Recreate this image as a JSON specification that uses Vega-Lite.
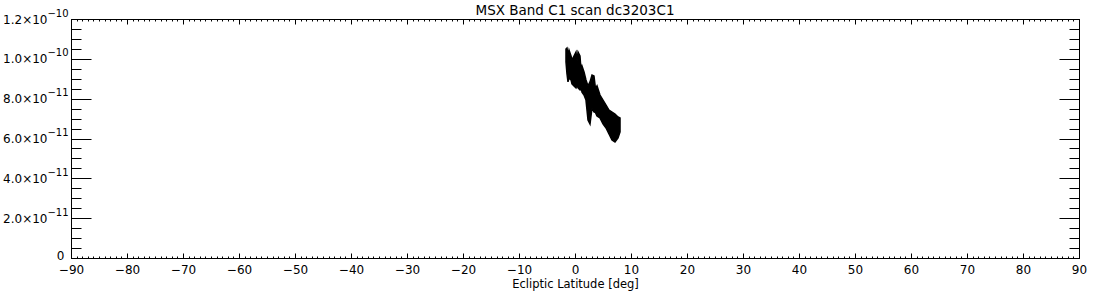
{
  "$schema": "https://vega.github.io/schema/vega-lite/v6.json",
  "autosize": {"type": "none"},
  "padding": {"left": 71, "top": 19, "right": 21, "bottom": 42},
  "width": 1008,
  "height": 239,
  "background": "white",
  "title": {"text": "MSX Band C1 scan dc3203C1", "font": "DejaVu Sans", "fontSize": 13.5, "fontWeight": "normal", "color": "black", "anchor": "middle", "offset": -9},
  "config": {
    "view": {"stroke": "black", "strokeWidth": 1},
    "axis": {"grid": false, "domain": false, "tickColor": "black", "tickWidth": 1, "labelColor": "black", "labelFont": "DejaVu Sans", "labelFontSize": 12, "titleFont": "DejaVu Sans", "titleFontSize": 11.5, "titleFontWeight": "normal", "titleColor": "black"}
  },
  "data": {"values": [
    {"lat": -1.61, "hi": 1.049e-10, "lo": 9.84e-11},
    {"lat": -1.43, "hi": 1.054e-10, "lo": 9.24e-11},
    {"lat": -1.25, "hi": 1.02e-10, "lo": 8.84e-11},
    {"lat": -1.07, "hi": 1.044e-10, "lo": 9.04e-11},
    {"lat": -0.71, "hi": 1.014e-10, "lo": 8.94e-11},
    {"lat": -0.54, "hi": 9.94e-11, "lo": 8.74e-11},
    {"lat": -0.18, "hi": 1.014e-10, "lo": 8.64e-11},
    {"lat": 0.18, "hi": 1.034e-10, "lo": 8.54e-11},
    {"lat": 0.36, "hi": 9.9e-11, "lo": 8.7e-11},
    {"lat": 0.54, "hi": 1.034e-10, "lo": 8.54e-11},
    {"lat": 0.89, "hi": 1.014e-10, "lo": 8.44e-11},
    {"lat": 1.07, "hi": 9.45e-11, "lo": 8.6e-11},
    {"lat": 1.25, "hi": 9.64e-11, "lo": 8.33e-11},
    {"lat": 1.61, "hi": 9.34e-11, "lo": 8.18e-11},
    {"lat": 1.96, "hi": 8.94e-11, "lo": 7.93e-11},
    {"lat": 2.32, "hi": 8.64e-11, "lo": 6.93e-11},
    {"lat": 2.68, "hi": 8.84e-11, "lo": 6.73e-11},
    {"lat": 3.04, "hi": 9.19e-11, "lo": 7.53e-11},
    {"lat": 3.39, "hi": 9.14e-11, "lo": 7.33e-11},
    {"lat": 3.66, "hi": 8.5e-11, "lo": 7.3e-11},
    {"lat": 3.93, "hi": 8.64e-11, "lo": 7.13e-11},
    {"lat": 4.46, "hi": 8.18e-11, "lo": 7.03e-11},
    {"lat": 5.0, "hi": 7.93e-11, "lo": 6.73e-11},
    {"lat": 5.54, "hi": 7.68e-11, "lo": 6.53e-11},
    {"lat": 6.07, "hi": 7.43e-11, "lo": 6.23e-11},
    {"lat": 6.61, "hi": 7.33e-11, "lo": 5.92e-11},
    {"lat": 7.14, "hi": 7.23e-11, "lo": 5.82e-11},
    {"lat": 7.68, "hi": 7.08e-11, "lo": 6.03e-11},
    {"lat": 8.04, "hi": 7.03e-11, "lo": 6.33e-11}
  ]},
  "resolve": {"scale": {"x": "shared", "y": "shared"}, "axis": {"x": "independent", "y": "independent"}},
  "layer": [
    {
      "mark": {"type": "area", "color": "black", "stroke": "black", "strokeWidth": 1.5, "interpolate": "linear"},
      "encoding": {
        "x": {"field": "lat", "type": "quantitative", "scale": {"domain": [-90, 90], "nice": false, "zero": false},
          "axis": {"orient": "bottom", "values": [-90, -80, -70, -60, -50, -40, -30, -20, -10, 0, 10, 20, 30, 40, 50, 60, 70, 80, 90], "tickSize": -5, "labelPadding": 11, "title": "Ecliptic Latitude [deg]", "titlePadding": 3, "labelFlush": false}},
        "y": {"field": "hi", "type": "quantitative", "scale": {"domain": [0, 1.2e-10], "nice": false, "zero": true},
          "axis": {"orient": "left", "values": [2e-11, 4e-11, 6e-11, 8e-11, 1e-10, 1.2e-10], "tickSize": -20, "labelPadding": 44, "title": null, "labelFlush": false,
            "labelExpr": "format(datum.value / pow(10, floor(log(datum.value) / LN10 + 1e-9)), '.1f') + '×10'"}},
        "y2": {"field": "lo"}
      }
    },
    {
      "mark": {"type": "point", "opacity": 0},
      "encoding": {
        "x": {"field": "lat", "type": "quantitative", "axis": {"orient": "bottom", "tickCount": 180, "tickSize": -2, "labels": false, "title": null}},
        "y": {"field": "hi", "type": "quantitative", "axis": {"orient": "left", "tickCount": 24, "tickSize": -10, "labels": false, "title": null}}
      }
    },
    {
      "mark": {"type": "point", "opacity": 0},
      "encoding": {
        "x": {"field": "lat", "type": "quantitative", "axis": {"orient": "top", "values": [-90, -80, -70, -60, -50, -40, -30, -20, -10, 0, 10, 20, 30, 40, 50, 60, 70, 80, 90], "tickSize": -5, "labels": false, "title": null}},
        "y": {"field": "hi", "type": "quantitative", "axis": {"orient": "right", "values": [0, 2e-11, 4e-11, 6e-11, 8e-11, 1e-10, 1.2e-10], "tickSize": -20, "labels": false, "title": null}}
      }
    },
    {
      "mark": {"type": "point", "opacity": 0},
      "encoding": {
        "x": {"field": "lat", "type": "quantitative", "axis": {"orient": "top", "tickCount": 180, "tickSize": -2, "labels": false, "title": null}},
        "y": {"field": "hi", "type": "quantitative", "axis": {"orient": "right", "tickCount": 24, "tickSize": -10, "labels": false, "title": null}}
      }
    },
    {
      "mark": {"type": "point", "opacity": 0},
      "encoding": {
        "y": {"field": "hi", "type": "quantitative", "axis": {"orient": "left", "values": [2e-11, 4e-11, 6e-11, 8e-11, 1e-10, 1.2e-10], "ticks": false, "tickSize": 0, "labelPadding": 3, "labelFontSize": 10, "labelOffset": -6, "title": null, "labelFlush": false,
          "labelExpr": "'−' + format(-floor(log(datum.value) / LN10 + 1e-9), 'd')"}}
      }
    },
    {
      "mark": {"type": "point", "opacity": 0},
      "encoding": {
        "y": {"field": "hi", "type": "quantitative", "axis": {"orient": "left", "values": [0], "ticks": false, "tickSize": 0, "labelPadding": 7, "labelOffset": -3, "title": null, "labelFlush": false, "labelExpr": "'0'"}}
      }
    }
  ]
}
